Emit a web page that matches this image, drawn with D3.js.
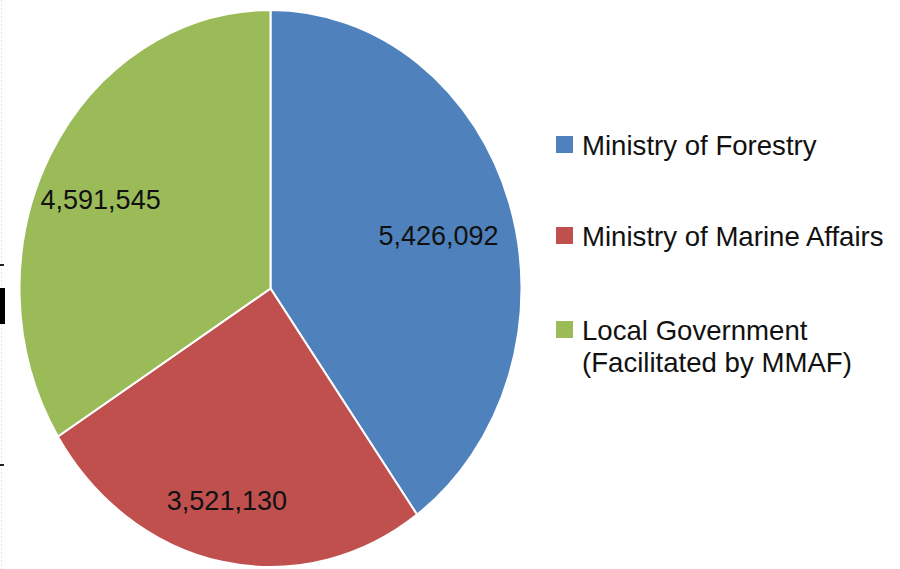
<!DOCTYPE html>
<html>
<head>
<meta charset="utf-8">
<script src="https://cdn.jsdelivr.net/npm/d3@7"></script>
<style>
  body { margin: 0; background: #fff; }
  svg { display: block; }
  text { font-family: "Liberation Sans", Arial, sans-serif; fill: #111; }
</style>
</head>
<body>
<div id="chart"></div>
<script>
const categories = ["Ministry of Forestry", "Ministry of Marine Affairs", "Local Government (Facilitated by MMAF)"];
const legendLines = [["Ministry of Forestry"], ["Ministry of Marine Affairs"], ["Local Government", "(Facilitated by MMAF)"]];
const values = [5426092, 3521130, 4591545];
const colors = ["#4F81BD", "#C0504D", "#9BBB59"];

const width = 900, height = 569;

const svg = d3.select("#chart")
    .append("svg")
    .attr("width", width)
    .attr("height", height);

// leftover bits of the slide on the left edge
const edge = svg.append("g");
edge.append("line")
    .attr("x1", 1.5).attr("x2", 1.5).attr("y1", 0).attr("y2", height)
    .attr("stroke", "#e4e4e4").attr("stroke-dasharray", "2,2");
edge.append("rect").attr("x", 0).attr("y", 264).attr("width", 4).attr("height", 2).attr("fill", "#222");
edge.append("rect").attr("x", 0).attr("y", 288).attr("width", 5).attr("height", 36).attr("fill", "#000");
edge.append("rect").attr("x", 0).attr("y", 464).attr("width", 4).attr("height", 2).attr("fill", "#222");

const cx = 270.5, cy = 288.5, r = 251, squash = 278.5 / 251;

const data = categories.map((c, i) => ({ name: c, value: values[i], color: colors[i] }));

const pie = d3.pie().sort(null).value(d => d.value);
const arcs = pie(data);

const arc = d3.arc().innerRadius(0).outerRadius(r);
const labelArc = d3.arc().innerRadius(185).outerRadius(185);

const g = svg.append("g")
    .attr("transform", `translate(${cx},${cy}) scale(1,${squash})`);

g.selectAll("path")
    .data(arcs).enter()
    .append("path")
    .attr("d", arc)
    .attr("fill", d => d.data.color)
    .attr("stroke", "#fff")
    .attr("stroke-width", 2)
    .attr("vector-effect", "non-scaling-stroke");

// labels sit a little lower-left of the slice centroid, as in the original
const fmt = d3.format(",");
svg.append("g").selectAll("text")
    .data(arcs).enter()
    .append("text")
    .attr("x", d => cx - 8 + labelArc.centroid(d)[0])
    .attr("y", d => cy + 10 + labelArc.centroid(d)[1] * squash)
    .attr("text-anchor", "middle")
    .attr("dy", "0.36em")
    .style("font-size", "27px")
    .text(d => fmt(d.data.value));

// legend
const legend = svg.append("g").attr("transform", "translate(556,136)");
const rowY = [0, 91, 185];
const item = legend.selectAll("g")
    .data(data).enter()
    .append("g")
    .attr("transform", (d, i) => `translate(0,${rowY[i]})`);

item.append("rect")
    .attr("width", 17).attr("height", 17)
    .attr("fill", d => d.color);

item.append("text")
    .attr("x", 26)
    .attr("y", 19)
    .style("font-size", "27.6px")
    .selectAll("tspan")
    .data((d, i) => legendLines[i]).enter()
    .append("tspan")
    .attr("x", 26)
    .attr("dy", (d, j) => j === 0 ? 0 : 32)
    .text(d => d);
</script>
</body>
</html>
